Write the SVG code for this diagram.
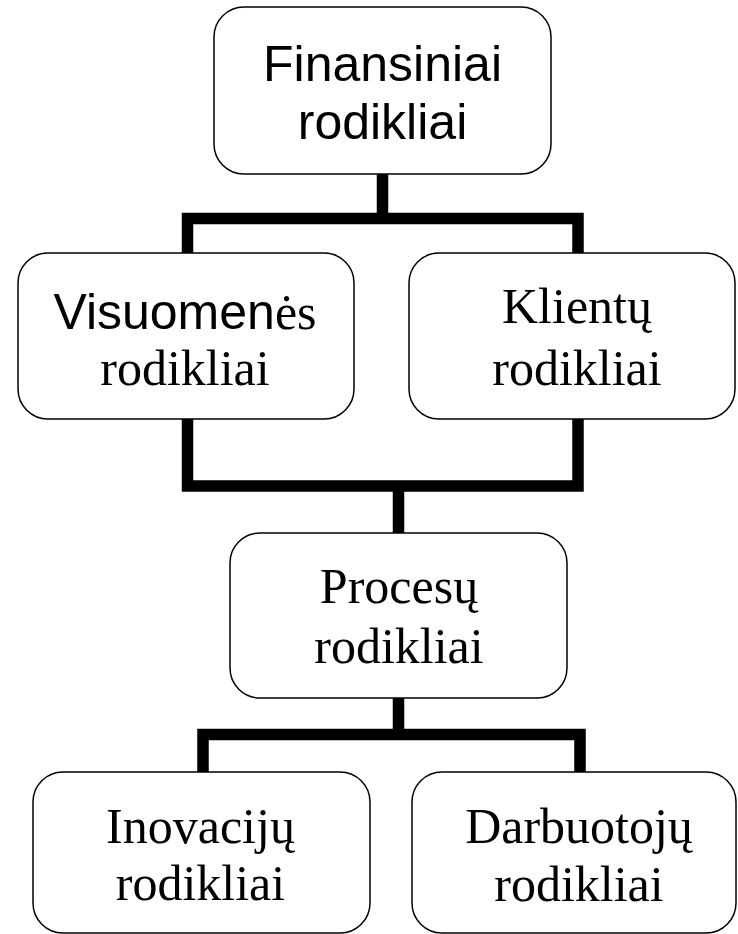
<svg xmlns="http://www.w3.org/2000/svg" width="738" height="934" viewBox="0 0 738 934">
  <style>
    .box { fill: #ffffff; stroke: #000000; stroke-width: 1.5; }
    .wire { fill: none; stroke: #000000; stroke-width: 11.5; stroke-linejoin: miter; stroke-linecap: butt; }
    .sans { font-family: "Liberation Sans", Arial, sans-serif; font-size: 50px; fill: #000000; }
    .serif { font-family: "Liberation Serif", "Times New Roman", serif; font-size: 50px; fill: #000000; }
  </style>
  <rect width="738" height="934" fill="#ffffff"/>

  <!-- connectors -->
  <g id="connectors">
    <path class="wire" d="M382.5 174 V218.5"/>
    <path class="wire" d="M187.5 253 V218.5 H578 V253"/>
    <path class="wire" d="M187.5 419 V486 H578 V419"/>
    <path class="wire" d="M398.5 486 V533"/>
    <path class="wire" d="M398.5 698 V734.5"/>
    <path class="wire" d="M203 772 V734.5 H580 V772"/>
  </g>

  <!-- nodes -->
  <g id="finansiniai">
    <rect class="box" x="214" y="7" width="337" height="167" rx="30"/>
    <text class="sans" x="382.5" y="81" text-anchor="middle">Finansiniai</text>
    <text class="sans" x="382.5" y="139" text-anchor="middle">rodikliai</text>
  </g>

  <g id="visuomenes">
    <rect class="box" x="18" y="253" width="336" height="166" rx="30"/>
    <text x="185" y="329" text-anchor="middle"><tspan class="sans">Visuomen</tspan><tspan class="serif">ės</tspan></text>
    <text class="serif" x="185" y="385" text-anchor="middle">rodikliai</text>
  </g>

  <g id="klientu">
    <rect class="box" x="409" y="253" width="326" height="166" rx="30"/>
    <text class="serif" x="577" y="323" text-anchor="middle">Klientų</text>
    <text class="serif" x="577" y="385" text-anchor="middle">rodikliai</text>
  </g>

  <g id="procesu">
    <rect class="box" x="230" y="533" width="337" height="165" rx="30"/>
    <text class="serif" x="399" y="603" text-anchor="middle">Procesų</text>
    <text class="serif" x="399" y="663" text-anchor="middle">rodikliai</text>
  </g>

  <g id="inovaciju">
    <rect class="box" x="33" y="772" width="337" height="161" rx="30"/>
    <text class="serif" x="200.5" y="843" text-anchor="middle">Inovacijų</text>
    <text class="serif" x="200.5" y="900" text-anchor="middle">rodikliai</text>
  </g>

  <g id="darbuotoju">
    <rect class="box" x="412" y="772" width="324" height="161" rx="30"/>
    <text class="serif" x="579" y="843" text-anchor="middle">Darbuotojų</text>
    <text class="serif" x="579" y="901" text-anchor="middle">rodikliai</text>
  </g>
</svg>
